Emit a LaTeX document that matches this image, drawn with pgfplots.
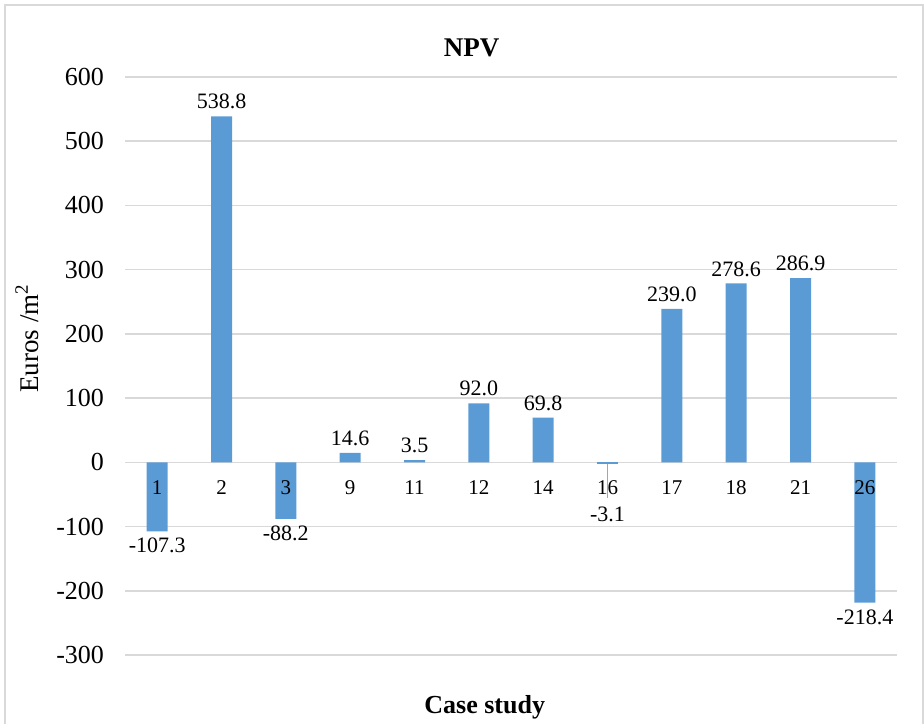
\documentclass[border=0pt]{standalone}
\usepackage{fontspec}
\setmainfont{Liberation Serif}
\usepackage{pgfplots}
\pgfplotsset{compat=1.18}
\definecolor{barblue}{HTML}{5B9BD5}
\definecolor{gridgray}{HTML}{D9D9D9}
\definecolor{leadgray}{HTML}{A6A6A6}
\pgfplotsset{
  npvframe/.style={
    scale only axis, width=386pt, height=289pt,
    xmin=-0.5, xmax=11.5, ymin=-300, ymax=600,
    xtick={0,...,11},
    xticklabels={1,2,3,9,11,12,14,16,17,18,21,26},
    axis x line*=middle, axis y line*=left,
    x axis line style={draw=gridgray, line width=0.8pt},
    y axis line style={draw=none},
    major tick length=0pt,
    /pgf/number format/assume math mode=true,
    xticklabel style={font=\fontsize{10.5}{12}\selectfont, yshift=-5.5pt},
  },
}
\begin{document}
\begin{tikzpicture}
\useasboundingbox (-62.5pt,-34pt) rectangle (399.5pt,327.5pt);
\draw[gridgray, line width=1.2pt] (-60pt,-50pt) -- (-60pt,325pt) -- (399pt,325pt) -- (399pt,-50pt);
\begin{axis}[
  npvframe,
  ybar, bar width=10.5pt, bar shift=0pt,
  ytick={-300,-200,...,600},
  xticklabels={},
  ymajorgrids, grid style={gridgray, line width=0.8pt},
  yticklabel style={font=\fontsize{13}{15}\selectfont, xshift=-7pt},
  title={NPV},
  every axis title/.style={at={(axis description cs:0.449,1.05)}, anchor=center, font=\bfseries\fontsize{13.5}{16}\selectfont},
  xlabel={Case study},
  ylabel={Euros /m\textsuperscript{2}},
  every axis x label/.style={at={(axis description cs:0.466,-0.09)}, anchor=center, font=\bfseries\fontsize{13}{15}\selectfont},
  every axis y label/.style={at={(axis description cs:-0.127,0.548)}, rotate=90, anchor=center, font=\fontsize{13.5}{16}\selectfont},
  nodes near coords={\pgfmathprintnumber[fixed,fixed zerofill,precision=1]{\pgfplotspointmeta}},
  every node near coord/.append style={font=\fontsize{11}{13}\selectfont, black},
]
\addplot[fill=barblue, draw=none] coordinates {
  (0,-107.3) (1,538.8) (2,-88.2) (3,14.6) (4,3.5) (5,92.0)
  (6,69.8) (8,239.0) (9,278.6) (10,286.9) (11,-218.4)
};
% case 16: label pulled down below the tick label, with a leader line
\addplot[fill=barblue, draw=none,
  every node near coord/.append style={yshift=-18pt},
  error bars/.cd, y dir=minus, y explicit,
  error mark=none, error bar style={leadgray, line width=0.6pt}]
  coordinates {(7,-3.1) -= (0,53)};
\end{axis}
% overlay axis: only the category labels, drawn on top of the bars
\begin{axis}[
  npvframe,
  x axis line style={draw=none},
  ytick=\empty,
]
\end{axis}
\end{tikzpicture}
\end{document}
